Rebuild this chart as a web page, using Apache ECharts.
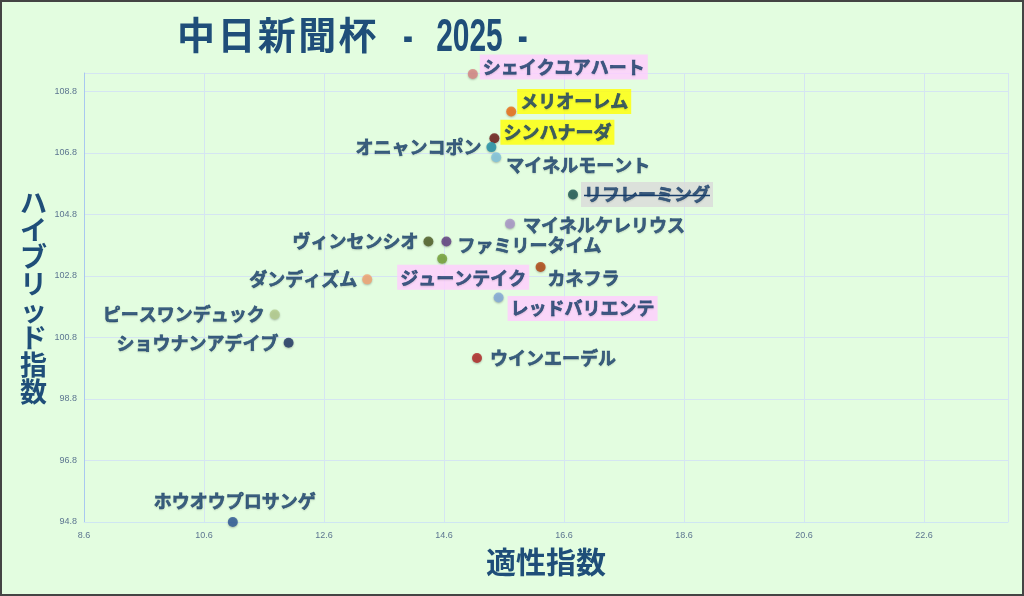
<!DOCTYPE html>
<html>
<head>
    <meta charset="utf-8">
    <title>中日新聞杯 2025</title>
    <script src="https://cdn.jsdelivr.net/npm/echarts@6/dist/echarts.min.js"></script>
</head>
<style>
    html, body
    {
        margin:0;
        padding:0;
        background-color:#e3fde0;
    }
    #main
    {
        width:1020px;
        height:592px;
        border:2px solid #444;
        background-color:#e3fde0;
    }
</style>
<body>
    <div id="main"></div>

    <script type="text/javascript">
        // 馬名・適性指数(x)・ハイブリッド指数(y)
        var horses = ['シェイクユアハート','メリオーレム','シンハナーダ','オニャンコポン','マイネルモーント',
                      'リフレーミング','マイネルケレリウス','ヴィンセンシオ','ファミリータイム','ジューンテイク',
                      'カネフラ','ダンディズム','レッドバリエンテ','ピースワンデュック','ショウナンアデイブ',
                      'ウインエーデル','ホウオウプロサンゲ'];
        var tekisei = [15.08, 15.72, 15.44, 15.39, 15.47,
                       16.75, 15.70, 14.34, 14.64, 14.57,
                       16.21, 13.32, 15.51, 11.78, 12.01,
                       15.15, 11.08];
        var hybrid = [109.37, 108.15, 107.28, 106.99, 106.66,
                      105.45, 104.50, 103.92, 103.92, 103.36,
                      103.09, 102.69, 102.10, 101.55, 100.63,
                      100.13, 94.80];
        var dotColors = ['#d98583','#ee6a12','#6a1414','#1f8fa8','#7fc3df',
                         '#1a5550','#a993c9','#4b5a22','#5e3a80','#72a032',
                         '#b0420e','#f5a372','#82a9da','#b4cc8c','#1b3262',
                         '#b02222','#2b5595'];
        var xTicks = [8.6, 24.0, 2];     // min, max, interval
        var yTicks = [94.8, 109.4, 2];

        // ラベルの位置と背景
        var labelOpt = {
            'シェイクユアハート': {position:'right', offset:[-3,-7], bg:'#ffccff'},
            'メリオーレム': {position:'right', offset:[-4,-10], bg:'#ffff00'},
            'シンハナーダ': {position:'right', offset:[-4,-6], bg:'#ffff00'},
            'オニャンコポン': {position:'left', offset:[0,0]},
            'マイネルモーント': {position:'right', offset:[0,8]},
            'リフレーミング': {position:'right', offset:[-2,0], bg:'#d9d9d9', strike:true},
            'マイネルケレリウス': {position:'right', offset:[3,1]},
            'ヴィンセンシオ': {position:'left', offset:[0,0]},
            'ファミリータイム': {position:'right', offset:[1,4]},
            'ジューンテイク': {position:'bottom', offset:[21,-4], bg:'#ffccff'},
            'カネフラ': {position:'right', offset:[-3,11]},
            'ダンディズム': {position:'left', offset:[0,0]},
            'レッドバリエンテ': {position:'right', offset:[-1,11], bg:'#ffccff'},
            'ピースワンデュック': {position:'left', offset:[0,0]},
            'ショウナンアデイブ': {position:'left', offset:[0,0]},
            'ウインエーデル': {position:'right', offset:[3,0]},
            'ホウオウプロサンゲ': {position:'top', offset:[2,-2]}
        };

        var fontJP = '"Noto Sans CJK JP", sans-serif';
        var textColor = '#1f4e79';
        var labelColor = '#173d6a';

        var points = [];
        for (var i = 0; i < horses.length; i++) {
            var lo = labelOpt[horses[i]];
            points.push({
                name: horses[i],
                value: [tekisei[i], hybrid[i]],
                itemStyle: { color: dotColors[i] },
                label: {
                    show: true,
                    position: lo.position,
                    offset: lo.offset,
                    distance: 5,
                    color: labelColor,
                    backgroundColor: lo.bg || 'transparent',
                    padding: lo.bg ? [4, 3, 3, 3] : 0
                }
            });
        }

        var myChart = echarts.init(document.getElementById('main'));

        var option = {
            backgroundColor: '#e3fde0',
            title: {
                text: '中\u200a日\u200a新\u200a聞\u200a杯',
                left: 170,
                top: 9,
                textStyle: { fontSize: 38, fontWeight: 'bold', color: textColor, fontFamily: fontJP }
            },
            graphic: [
                {
                    type: 'text',
                    x: 401,
                    y: 36,
                    scaleX: 0.65,
                    style: {
                        text: '- \u20022025\u2002-',
                        font: 'bold 46px "Liberation Sans", Arial, sans-serif',
                        fill: textColor,
                        verticalAlign: 'middle'
                    }
                }
            ],
            grid: {
                left: 82,
                right: 14,
                top: 71,
                bottom: 72
            },
            xAxis: {
                type: 'value',
                min: xTicks[0],
                max: xTicks[1],
                interval: xTicks[2],
                name: '適性指数',
                nameLocation: 'middle',
                nameGap: 25,
                nameTextStyle: { fontSize: 30, fontWeight: 'bold', color: textColor, fontFamily: fontJP },
                axisLine: { show: true, lineStyle: { color: '#cfe6f2' } },
                axisTick: { show: false },
                axisLabel: {
                    fontSize: 9, color: '#5c7590', margin: 9, showMaxLabel: false,
                    formatter: function (v) { return v.toFixed(1); }
                },
                splitLine: { show: true, lineStyle: { color: '#d5e5f2' } }
            },
            yAxis: {
                type: 'value',
                min: yTicks[0],
                max: yTicks[1],
                interval: yTicks[2],
                name: 'ハ\nイ\nブ\nリ\nッ\nド\n指\n数',
                nameLocation: 'middle',
                nameRotate: 0,
                nameGap: 37,
                nameTextStyle: { fontSize: 27, lineHeight: 27, fontWeight: 'bold', color: textColor, fontFamily: fontJP },
                axisLine: { show: true, lineStyle: { color: '#a9c8f0' } },
                axisTick: { show: false },
                axisLabel: {
                    fontSize: 9, color: '#5c7590', margin: 7, showMaxLabel: false,
                    formatter: function (v) { return v.toFixed(1); }
                },
                splitLine: { show: true, lineStyle: { color: '#d5e5f2' } }
            },
            series: [
                {
                    type: 'scatter',
                    symbolSize: 10,
                    itemStyle: { shadowBlur: 2, shadowColor: 'rgba(0,0,0,0.3)', shadowOffsetY: 1 },
                    label: {
                        formatter: '{b}',
                        fontSize: 18,
                        fontWeight: 'bold',
                        color: labelColor,
                        textBorderColor: labelColor,
                        textBorderWidth: 0.6,
                        textShadowColor: 'rgba(0,0,0,0.15)',
                        textShadowBlur: 2,
                        textShadowOffsetY: 1,
                        fontFamily: fontJP
                    },
                    data: points
                }
            ]
        };

        myChart.setOption(option);

        // リフレーミングの取り消し線
        var ctx = document.createElement('canvas').getContext('2d');
        ctx.font = 'bold 18px ' + fontJP;
        var lines = option.graphic.slice();
        for (var j = 0; j < horses.length; j++) {
            var lo2 = labelOpt[horses[j]];
            if (!lo2.strike) continue;
            var p = myChart.convertToPixel({ seriesIndex: 0 }, [tekisei[j], hybrid[j]]);
            var w = ctx.measureText(horses[j]).width;
            var x0 = p[0] + 5 + 5 + lo2.offset[0] + 3;
            var y0 = p[1] + lo2.offset[1] + 1;
            lines.push({
                type: 'line',
                shape: { x1: x0, y1: y0, x2: x0 + w, y2: y0 },
                style: { stroke: labelColor, lineWidth: 1.5 },
                z: 100
            });
        }
        myChart.setOption({ graphic: lines });
    </script>
</body>
</html>
